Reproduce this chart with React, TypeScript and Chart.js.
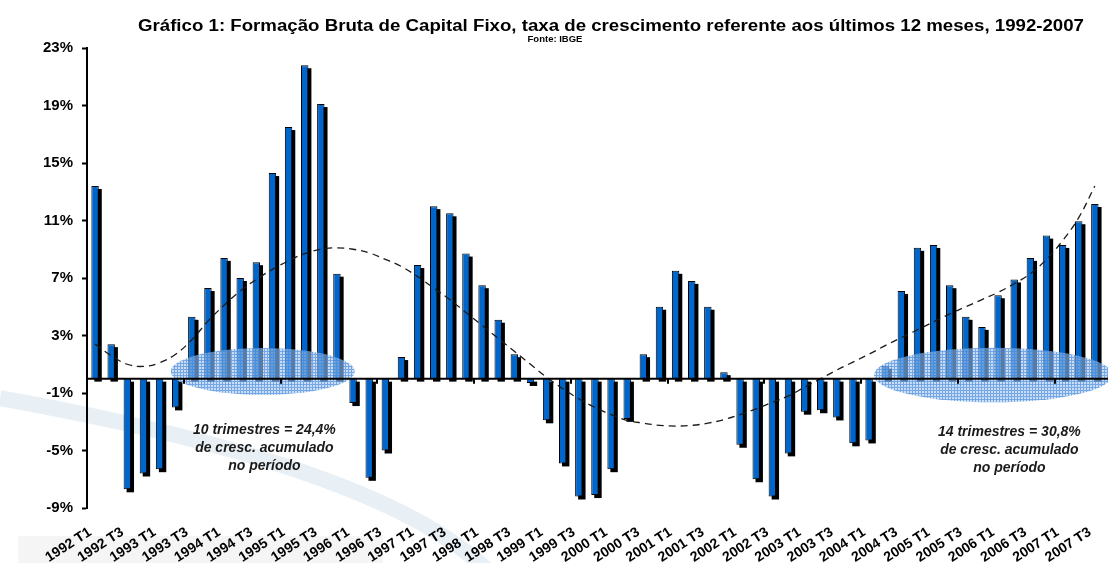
import React, { useEffect, useRef } from "react";
import { Chart, registerables } from "chart.js";

Chart.register(...registerables);

const TITLE =
  "Gráfico 1: Formação Bruta de Capital Fixo, taxa de crescimento referente aos últimos 12 meses, 1992-2007";
const SUBTITLE = "Fonte: IBGE";

const quarters: string[] = [
  "1992 T1", "1992 T2", "1992 T3", "1992 T4",
  "1993 T1", "1993 T2", "1993 T3", "1993 T4",
  "1994 T1", "1994 T2", "1994 T3", "1994 T4",
  "1995 T1", "1995 T2", "1995 T3", "1995 T4",
  "1996 T1", "1996 T2", "1996 T3", "1996 T4",
  "1997 T1", "1997 T2", "1997 T3", "1997 T4",
  "1998 T1", "1998 T2", "1998 T3", "1998 T4",
  "1999 T1", "1999 T2", "1999 T3", "1999 T4",
  "2000 T1", "2000 T2", "2000 T3", "2000 T4",
  "2001 T1", "2001 T2", "2001 T3", "2001 T4",
  "2002 T1", "2002 T2", "2002 T3", "2002 T4",
  "2003 T1", "2003 T2", "2003 T3", "2003 T4",
  "2004 T1", "2004 T2", "2004 T3", "2004 T4",
  "2005 T1", "2005 T2", "2005 T3", "2005 T4",
  "2006 T1", "2006 T2", "2006 T3", "2006 T4",
  "2007 T1", "2007 T2", "2007 T3",
];

// growth over last 12 months (%)
const growth: number[] = [
  13.4, 2.4, -7.7, -6.6, -6.3, -2.0, 4.3, 6.3,
  8.4, 7.0, 8.1, 14.3, 17.5, 21.8, 19.1, 7.3,
  -1.7, -6.9, -5.0, 1.5, 7.9, 12.0, 11.5, 8.7,
  6.5, 4.1, 1.7, -0.3, -2.9, -5.9, -8.2, -8.1,
  -6.3, -2.8, 1.7, 5.0, 7.5, 6.8, 5.0, 0.45,
  -4.6, -7.0, -8.2, -5.2, -2.3, -2.2, -2.7, -4.5,
  -4.3, 0.9, 6.1, 9.1, 9.3, 6.5, 4.3, 3.6,
  5.8, 6.9, 8.4, 9.95, 9.3, 10.95, 12.15,
];

// polynomial trend line (%)
const trend: number[] = [
  2.4, 1.6, 1.0, 0.85, 1.1, 1.7, 2.7, 4.0,
  5.1, 6.1, 6.9, 7.6, 8.2, 8.7, 9.0, 9.1,
  9.0, 8.75, 8.3, 7.8, 7.1, 6.3, 5.5, 4.6,
  3.7, 2.8, 1.9, 1.0, 0.1, -0.7, -1.4, -2.0,
  -2.5, -2.9, -3.1, -3.25, -3.3, -3.25, -3.1, -2.85,
  -2.5, -2.1, -1.65, -1.2, -0.6, 0.0, 0.6, 1.15,
  1.7, 2.3, 2.85, 3.4, 3.95, 4.5, 5.0, 5.5,
  6.0, 6.6, 7.3, 8.3, 9.6, 11.2, 13.4,
];

const Y_MIN = -9;
const Y_MAX = 23;
const Y_STEP = 4;

// highlighted periods (category index / % units)
const highlightCenters: number[] = [10.4, 55.7];
const highlightValues: number[] = [0.5, 0.25];
const highlightHalfWidths: number[] = [5.7, 7.4];
const highlightHalfHeights: number[] = [1.63, 1.9];

const noteCenters: number[] = [10.5, 56.7];
const noteValues: number[] = [-3.55, -3.75];
const noteLines: string[][] = [
  ["10 trimestres = 24,4%", "de cresc. acumulado", "no período"],
  ["14 trimestres = 30,8%", "de cresc. acumulado", "no período"],
];

const FONT = "'Liberation Sans', Arial, Helvetica, sans-serif";
const BAR_BLUE = "#0066CC";

function makeHatch(ctx: CanvasRenderingContext2D): CanvasPattern | string {
  const c = document.createElement("canvas");
  c.width = 3;
  c.height = 3;
  const p = c.getContext("2d");
  if (!p) return "rgba(120,170,230,0.5)";
  p.fillStyle = "rgba(165,200,240,0.6)";
  p.fillRect(0, 0, 3, 3);
  p.fillStyle = "rgba(60,130,215,0.6)";
  p.fillRect(0, 0, 3, 1);
  p.fillRect(0, 1, 1, 2);
  return ctx.createPattern(c, "repeat") || "rgba(120,170,230,0.5)";
}

const backgroundPlugin = {
  id: "bg",
  beforeDraw(chart: any) {
    const ctx = chart.ctx as CanvasRenderingContext2D;
    ctx.save();
    ctx.fillStyle = "#ffffff";
    ctx.fillRect(0, 0, chart.width, chart.height);
    // faint watermark
    ctx.fillStyle = "#F5F5F5";
    ctx.fillRect(18, 536, 365, 30);
    ctx.strokeStyle = "rgba(214,228,238,0.55)";
    ctx.lineWidth = 16;
    ctx.beginPath();
    ctx.moveTo(0, 398);
    ctx.quadraticCurveTo(390, 468, 492, 575);
    ctx.stroke();
    ctx.restore();
  },
};

const shadowPlugin = {
  id: "barShadow",
  beforeDatasetDraw(chart: any, args: any) {
    if (args.index !== 0) return;
    const ctx = chart.ctx as CanvasRenderingContext2D;
    const meta = chart.getDatasetMeta(0);
    ctx.save();
    ctx.fillStyle = "#000000";
    meta.data.forEach((el: any) => {
      const { x, y, base, width } = el.getProps(["x", "y", "base", "width"], true);
      const top = Math.min(y, base);
      const bottom = Math.max(y, base);
      ctx.fillRect(x - width / 2 + 3, top + 3, width, bottom - top);
    });
    ctx.restore();
  },
};

const overlayPlugin = {
  id: "overlay",
  afterDatasetsDraw(chart: any) {
    const ctx = chart.ctx as CanvasRenderingContext2D;
    const xs = chart.scales.x;
    const ys = chart.scales.y;
    const catW = xs.getPixelForValue(1) - xs.getPixelForValue(0);
    const pxPerUnit = Math.abs(ys.getPixelForValue(0) - ys.getPixelForValue(1));
    const area = chart.chartArea;

    ctx.save();
    // hatched ellipses
    const hatch = makeHatch(ctx);
    highlightCenters.forEach((c, i) => {
      ctx.beginPath();
      ctx.ellipse(
        xs.getPixelForValue(c),
        ys.getPixelForValue(highlightValues[i]),
        highlightHalfWidths[i] * catW,
        highlightHalfHeights[i] * pxPerUnit,
        0,
        0,
        Math.PI * 2
      );
      ctx.fillStyle = hatch as any;
      ctx.fill();
    });

    // zero axis line
    const y0 = ys.getPixelForValue(0);
    ctx.strokeStyle = "#000000";
    ctx.lineWidth = 2;
    ctx.beginPath();
    ctx.moveTo(area.left, y0);
    ctx.lineTo(area.right + 10, y0);
    ctx.stroke();
    // category tick marks every 6 quarters
    for (let k = 6; k < quarters.length; k += 6) {
      const px = Math.round(xs.getPixelForValue(k) - catW / 2);
      ctx.beginPath();
      ctx.moveTo(px, y0);
      ctx.lineTo(px, y0 + 5);
      ctx.stroke();
    }

    // notes
    ctx.fillStyle = "#1a1a1a";
    ctx.font = `italic bold 14px ${FONT}`;
    ctx.textAlign = "center";
    ctx.textBaseline = "middle";
    noteCenters.forEach((c, i) => {
      const cx = xs.getPixelForValue(c);
      const cy = ys.getPixelForValue(noteValues[i]);
      noteLines[i].forEach((line, j) => {
        ctx.fillText(line, cx, cy + j * 18);
      });
    });

    // titles
    ctx.fillStyle = "#000000";
    ctx.font = `bold 16px ${FONT}`;
    const w = ctx.measureText(TITLE).width;
    const targetW = 946;
    ctx.save();
    ctx.translate(611, 27);
    ctx.scale(targetW / w, 1);
    ctx.fillText(TITLE, 0, 0);
    ctx.restore();
    ctx.font = `bold 9.5px ${FONT}`;
    ctx.fillText(SUBTITLE, 555, 39);
    ctx.restore();
  },
};

export default function App() {
  const canvasRef = useRef<HTMLCanvasElement | null>(null);

  useEffect(() => {
    const canvas = canvasRef.current;
    if (!canvas) return;
    const chart = new Chart(canvas, {
      type: "bar",
      data: {
        labels: quarters,
        datasets: [
          {
            type: "bar",
            label: "FBCF",
            data: growth,
            backgroundColor: BAR_BLUE,
            borderColor: "#000000",
            borderWidth: 1,
            barPercentage: 0.46,
            categoryPercentage: 1,
            order: 1,
          },
          {
            type: "line",
            label: "Tendência",
            data: trend,
            borderColor: "#1a1a1a",
            borderWidth: 1.3,
            borderDash: [7, 5],
            pointRadius: 0,
            tension: 0.4,
            fill: false,
            order: 0,
          },
        ] as any,
      },
      options: {
        responsive: false,
        devicePixelRatio: 1,
        animation: false,
        layout: { padding: { top: 48, left: 0, right: 0, bottom: 0 } },
        plugins: {
          legend: { display: false },
          title: { display: false },
          tooltip: { enabled: false },
        },
        scales: {
          x: {
            type: "category",
            offset: true,
            grid: { display: false, drawTicks: false },
            border: { display: false },
            ticks: {
              autoSkip: false,
              minRotation: 33,
              maxRotation: 33,
              padding: 16,
              labelOffset: -5,
              color: "#000000",
              font: { family: FONT, size: 14, weight: "bold" },
              callback: (_v: any, i: number) => (i % 2 === 0 ? quarters[i] : ""),
            },
            afterFit: (s: any) => {
              s.height = 55;
            },
          },
          y: {
            min: Y_MIN,
            max: Y_MAX,
            grid: {
              drawOnChartArea: false,
              drawTicks: true,
              tickLength: 5,
              tickWidth: 2,
              tickColor: "#000000",
            },
            border: { display: true, color: "#000000", width: 2 },
            ticks: {
              stepSize: Y_STEP,
              padding: 9,
              color: "#000000",
              font: { family: FONT, size: 15, weight: "bold" },
              callback: (v: any) => `${v}%`,
            },
            afterFit: (s: any) => {
              s.width = 87;
            },
          },
        },
      } as any,
      plugins: [backgroundPlugin, shadowPlugin, overlayPlugin],
    });
    return () => chart.destroy();
  }, []);

  return (
    <div
      style={{
        position: "absolute",
        left: 0,
        top: 0,
        width: 1108,
        height: 563,
        overflow: "hidden",
        background: "#ffffff",
      }}
    >
      <canvas ref={canvasRef} width={1120} height={563} style={{ display: "block" }} />
    </div>
  );
}
